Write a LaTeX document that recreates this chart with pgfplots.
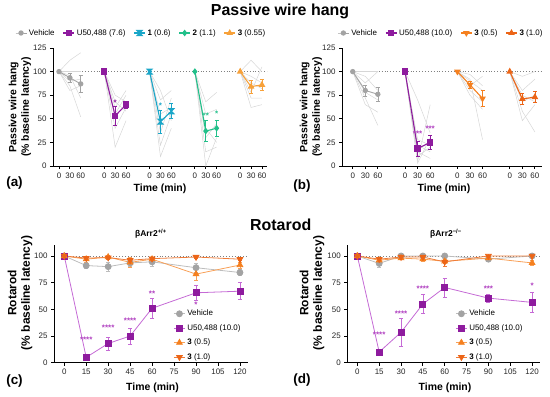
\documentclass[border=0pt]{standalone}
\usepackage{fontspec}
\setmainfont{Liberation Sans}
\usepackage{pgfplots}
\pgfplotsset{compat=1.18}

\definecolor{veh}{HTML}{A3A3A3}
\definecolor{vehl}{HTML}{BDBDBD}
\definecolor{u50}{HTML}{8E1B9E}
\definecolor{u50l}{HTML}{C56AD5}
\definecolor{cpdone}{HTML}{1AA6C8}
\definecolor{cpdtwo}{HTML}{22C08A}
\definecolor{orA}{HTML}{F7A13A}
\definecolor{orB}{HTML}{F5801F}
\definecolor{orC}{HTML}{EC6517}
\definecolor{indiv}{HTML}{D6D6D6}
\definecolor{starc}{HTML}{B040C0}

\pgfdeclareplotmark{hourglass}{%
  \pgfpathmoveto{\pgfqpoint{-\pgfplotmarksize}{\pgfplotmarksize}}%
  \pgfpathlineto{\pgfqpoint{\pgfplotmarksize}{\pgfplotmarksize}}%
  \pgfpathlineto{\pgfqpoint{-\pgfplotmarksize}{-\pgfplotmarksize}}%
  \pgfpathlineto{\pgfqpoint{\pgfplotmarksize}{-\pgfplotmarksize}}%
  \pgfpathclose
  \pgfusepathqfillstroke
}

\tikzset{startxt/.style={text=starc, font=\bfseries\fontsize{8}{8}\selectfont, inner sep=0pt}}

\pgfplotsset{
  prism/.style={
    scale only axis, clip=false,
    axis x line*=bottom, axis y line*=left,
    axis line style={-, black, line width=0.9pt},
    every outer x axis line/.append style={-},
    every outer y axis line/.append style={-},
    tick align=outside, major tick length=3bp,
    tick style={black, line width=0.8pt},
    tick label style={font=\fontsize{8}{9}\selectfont, text=black!85},
    /pgf/number format/assume math mode=true,
    legend style={draw=none, fill=none, font=\fontsize{8}{9.5}\selectfont},
    legend cell align=left,
    legend image code/.code={\draw[mark repeat=2,mark phase=2] plot coordinates {(0bp,0bp)(5.5bp,0bp)(11bp,0bp)};},
  },
  eb/.style={/pgfplots/error bars/y dir=both, /pgfplots/error bars/y explicit,
    /pgfplots/error bars/error bar style={line width=0.6pt, solid},
    /pgfplots/error bars/error mark options={rotate=90, mark size=2bp, line width=0.6pt}},
  ind/.style={forget plot, indiv, line width=0.5pt, no markers},
  hundred/.style={forget plot, gray, line width=0.9pt, dotted, no markers},
}

\begin{document}
\begin{tikzpicture}
\useasboundingbox (0,0) rectangle (550bp,397bp);

% ---------------- (a) ----------------
\begin{axis}[prism, at={(53bp,231bp)}, anchor=south west,
  width=214bp, height=118bp, xmin=-16.5, xmax=574, ymin=0, ymax=125,
  ytick={0,25,50,75,100,125},
  xtick={0,30,60,125,155,185,250,280,310,375,405,435,500,530,560},
  xticklabels={0,30,60,0,30,60,0,30,60,0,30,60,0,30,60},
  legend columns=-1,
  legend style={at={(0.412,1.127)}, anchor=center, /tikz/every even column/.append style={column sep=6bp}},
]
\addplot[hundred] coordinates {(0,100)(574,100)};
% individual animals
\addplot[ind] coordinates {(0,100)(30,112)(60,120)};
\addplot[ind] coordinates {(0,100)(30,96)(60,72)};
\addplot[ind] coordinates {(0,100)(30,85)(60,52)};
\addplot[ind] coordinates {(0,100)(30,100)(60,100)};
\addplot[ind] coordinates {(0,100)(30,90)(60,92)};
\addplot[ind] coordinates {(0,100)(30,80)(60,85)};
\addplot[ind] coordinates {(125,100)(155,20)(185,48)};
\addplot[ind] coordinates {(125,100)(155,40)(185,62)};
\addplot[ind] coordinates {(125,100)(155,62)(185,80)};
\addplot[ind] coordinates {(125,100)(155,75)(185,68)};
\addplot[ind] coordinates {(125,100)(155,55)(185,75)};
\addplot[ind] coordinates {(125,100)(155,68)(185,58)};
\addplot[ind] coordinates {(250,100)(280,10)(310,40)};
\addplot[ind] coordinates {(250,100)(280,22)(310,55)};
\addplot[ind] coordinates {(250,100)(280,35)(310,72)};
\addplot[ind] coordinates {(250,100)(280,55)(310,62)};
\addplot[ind] coordinates {(250,100)(280,70)(310,80)};
\addplot[ind] coordinates {(250,100)(280,80)(310,48)};
\addplot[ind] coordinates {(375,100)(405,0)(435,30)};
\addplot[ind] coordinates {(375,100)(405,15)(435,20)};
\addplot[ind] coordinates {(375,100)(405,30)(435,45)};
\addplot[ind] coordinates {(375,100)(405,55)(435,60)};
\addplot[ind] coordinates {(375,100)(405,68)(435,78)};
\addplot[ind] coordinates {(375,100)(405,40)(435,25)};
\addplot[ind] coordinates {(500,100)(530,62)(560,65)};
\addplot[ind] coordinates {(500,100)(530,78)(560,105)};
\addplot[ind] coordinates {(500,100)(530,95)(560,88)};
\addplot[ind] coordinates {(500,100)(530,112)(560,100)};
\addplot[ind] coordinates {(500,100)(530,72)(560,72)};
\addplot[ind] coordinates {(500,100)(530,88)(560,82)};
% means
\addplot[veh, line width=0.9pt, mark=*, mark size=2.2bp, mark options={solid, fill=veh}, eb]
  coordinates {(0,100) +- (0,0) (30,93.5) +- (0,5) (60,87) +- (0,9)};
\addlegendentry{Vehicle}
\addplot[u50, line width=1.1pt, mark=square*, mark size=2.6bp, mark options={solid, fill=u50}, eb]
  coordinates {(125,100) +- (0,0) (155,53) +- (0,10) (185,65) +- (0,4)};
\addlegendentry{U50,488 (7.6)}
\addplot[cpdone, line width=1.1pt, mark=hourglass, mark size=2.5bp, mark options={solid, fill=cpdone}, eb]
  coordinates {(250,100) +- (0,0) (280,47) +- (0,12) (310,58) +- (0,8)};
\addlegendentry{\textbf{1} (0.6)}
\addplot[cpdtwo, line width=1.1pt, mark=diamond*, mark size=2.5bp, mark options={solid, fill=cpdtwo}, eb]
  coordinates {(375,100) +- (0,0) (405,37) +- (0,11) (435,40) +- (0,8.5)};
\addlegendentry{\textbf{2} (1.1)}
\addplot[orA, line width=1.1pt, mark=triangle*, mark size=2.8bp, mark options={solid, fill=orA}, eb]
  coordinates {(500,100) +- (0,0) (530,84) +- (0,7) (560,86) +- (0,6)};
\addlegendentry{\textbf{3} (0.55)}
\node[startxt, text=u50] at (axis cs:155,67.5) {*};
\node[startxt, text=cpdone] at (axis cs:280,64) {*};
\node[startxt, text=cpdtwo] at (axis cs:405,53.5) {**};
\node[startxt, text=cpdtwo] at (axis cs:435,55.5) {*};
\end{axis}

% ---------------- (b) ----------------
\begin{axis}[prism, at={(342bp,231bp)}, anchor=south west,
  width=200bp, height=118bp, xmin=-25.6, xmax=452, ymin=0, ymax=125,
  ytick={0,25,50,75,100,125},
  xtick={0,30,60,125,155,185,250,280,310,375,405,435},
  xticklabels={0,30,60,0,30,60,0,30,60,0,30,60},
  legend columns=-1,
  legend style={at={(0.495,1.127)}, anchor=center, /tikz/every even column/.append style={column sep=6bp}},
]
\addplot[hundred] coordinates {(0,100)(452,100)};
\addplot[ind] coordinates {(0,100)(30,88)(60,100)};
\addplot[ind] coordinates {(0,100)(30,65)(60,57)};
\addplot[ind] coordinates {(0,100)(30,72)(60,43)};
\addplot[ind] coordinates {(0,100)(30,95)(60,80)};
\addplot[ind] coordinates {(0,100)(30,100)(60,100)};
\addplot[ind] coordinates {(0,100)(30,78)(60,70)};
\addplot[ind] coordinates {(125,100)(155,5)(185,65)};
\addplot[ind] coordinates {(125,100)(155,10)(185,20)};
\addplot[ind] coordinates {(125,100)(155,28)(185,22)};
\addplot[ind] coordinates {(125,100)(155,15)(185,8)};
\addplot[ind] coordinates {(125,100)(155,22)(185,15)};
\addplot[ind] coordinates {(125,100)(155,70)(185,35)};
\addplot[ind] coordinates {(125,100)(155,3)(185,30)};
\addplot[ind] coordinates {(250,100)(280,92)(310,28)};
\addplot[ind] coordinates {(250,100)(280,80)(310,68)};
\addplot[ind] coordinates {(250,100)(280,85)(310,95)};
\addplot[ind] coordinates {(250,100)(280,97)(310,85)};
\addplot[ind] coordinates {(250,100)(280,75)(310,60)};
\addplot[ind] coordinates {(250,100)(280,90)(310,80)};
\addplot[ind] coordinates {(375,100)(405,48)(435,65)};
\addplot[ind] coordinates {(375,100)(405,58)(435,36)};
\addplot[ind] coordinates {(375,100)(405,80)(435,92)};
\addplot[ind] coordinates {(375,100)(405,68)(435,75)};
\addplot[ind] coordinates {(375,100)(405,95)(435,100)};
\addplot[ind] coordinates {(375,100)(405,75)(435,68)};
\addplot[veh, line width=0.9pt, mark=*, mark size=2.2bp, mark options={solid, fill=veh}, eb]
  coordinates {(0,100) +- (0,0) (30,80) +- (0,6) (60,76) +- (0,7)};
\addlegendentry{Vehicle}
\addplot[u50, line width=1.1pt, mark=square*, mark size=2.6bp, mark options={solid, fill=u50}, eb]
  coordinates {(125,100) +- (0,0) (155,18.5) +- (0,8) (185,25) +- (0,7)};
\addlegendentry{U50,488 (10.0)}
\addplot[orB, line width=1.1pt, mark=triangle*, mark size=2.8bp, mark options={solid, fill=orB, rotate=180}, eb]
  coordinates {(250,100) +- (0,0) (280,86) +- (0,4) (310,71.5) +- (0,8.5)};
\addlegendentry{\textbf{3} (0.5)}
\addplot[orC, line width=1.1pt, mark=triangle*, mark size=2.8bp, mark options={solid, fill=orC}, eb]
  coordinates {(375,100) +- (0,0) (405,71) +- (0,6) (435,73) +- (0,6)};
\addlegendentry{\textbf{3} (1.0)}
\node[startxt] at (axis cs:155,34) {***};
\node[startxt] at (axis cs:185,39.5) {***};
\end{axis}

% ---------------- (c) ----------------
\begin{axis}[prism, at={(54bp,34.3bp)}, anchor=south west,
  width=194bp, height=117.4bp, xmin=-7, xmax=125.5, ymin=0, ymax=110,
  ytick={0,25,50,75,100},
  xtick={0,15,30,45,60,75,90,105,120},
  legend style={at={(0.794,0.232)}, anchor=center, row sep=3.2bp},
]
\addplot[hundred] coordinates {(0,100)(125.5,100)};
\addplot[vehl, line width=0.8pt, mark=*, mark size=3bp, mark options={solid, fill=veh, draw=veh}, eb]
  coordinates {(0,100) +- (0,0) (15,91) +- (0,3) (30,90) +- (0,4) (45,93.5) +- (0,3) (60,94.5) +- (0,4) (90,89) +- (0,4) (120,84.5) +- (0,3)};
\addlegendentry{Vehicle}
\addplot[u50l, line width=0.8pt, mark=square*, mark size=3bp, mark options={solid, fill=u50, draw=u50}, eb]
  coordinates {(0,100) +- (0,0) (15,5) +- (0,2) (30,18) +- (0,6) (45,25) +- (0,7.5) (60,51) +- (0,9) (90,65.5) +- (0,7) (120,67) +- (0,8)};
\addlegendentry{U50,488 (10.0)}
\addplot[orB!75, line width=0.8pt, mark=triangle*, mark size=3.3bp, mark options={solid, fill=orB, draw=orB}, eb]
  coordinates {(0,100) +- (0,0) (15,97) +- (0,3) (30,99) +- (0,2) (45,94) +- (0,5) (60,97) +- (0,2) (90,83) +- (0,6) (120,91.5) +- (0,3)};
\addlegendentry{\textbf{3} (0.5)}
\addplot[orC!85, line width=0.8pt, mark=triangle*, mark size=3.3bp, mark options={solid, fill=orC, draw=orC, rotate=180}, eb]
  coordinates {(0,100) +- (0,0) (15,98) +- (0,1.5) (30,98.5) +- (0,1.5) (45,96) +- (0,2) (60,97.5) +- (0,1.5) (90,99) +- (0,1) (120,97) +- (0,1.5)};
\addlegendentry{\textbf{3} (1.0)}
\node[startxt] at (axis cs:15,21.5) {****};
\node[startxt] at (axis cs:30,32.5) {****};
\node[startxt] at (axis cs:45,39.5) {****};
\node[startxt] at (axis cs:60,65) {**};
\node[startxt] at (axis cs:90,54.5) {*};
\end{axis}

% ---------------- (d) ----------------
\begin{axis}[prism, at={(347.3bp,34.3bp)}, anchor=south west,
  width=192.8bp, height=117.4bp, xmin=-6.9, xmax=125.5, ymin=0, ymax=110,
  ytick={0,25,50,75,100},
  xtick={0,15,30,45,60,75,90,105,120},
  legend style={at={(0.74,0.232)}, anchor=center, row sep=3.2bp},
]
\addplot[hundred] coordinates {(0,100)(125.5,100)};
\addplot[vehl, line width=0.8pt, mark=*, mark size=3bp, mark options={solid, fill=veh, draw=veh}, eb]
  coordinates {(0,100) +- (0,0) (15,93) +- (0,4) (30,100) +- (0,1) (45,100) +- (0,1) (60,100) +- (0,1) (90,97) +- (0,2) (120,100) +- (0,1)};
\addlegendentry{Vehicle}
\addplot[u50l, line width=0.8pt, mark=square*, mark size=3bp, mark options={solid, fill=u50, draw=u50}, eb]
  coordinates {(0,100) +- (0,0) (15,10) +- (0,2) (30,28.5) +- (0,13) (45,55) +- (0,9) (60,70.5) +- (0,9) (90,60.5) +- (0,4) (120,56.5) +- (0,9)};
\addlegendentry{U50,488 (10.0)}
\addplot[orB!75, line width=0.8pt, mark=triangle*, mark size=3.3bp, mark options={solid, fill=orB, draw=orB}, eb]
  coordinates {(0,100) +- (0,0) (15,96) +- (0,2) (30,98) +- (0,1.5) (45,97) +- (0,2) (60,95) +- (0,2) (90,98) +- (0,1.5) (120,93.5) +- (0,2)};
\addlegendentry{\textbf{3} (0.5)}
\addplot[orC!85, line width=0.8pt, mark=triangle*, mark size=3.3bp, mark options={solid, fill=orC, draw=orC, rotate=180}, eb]
  coordinates {(0,100) +- (0,0) (15,97) +- (0,2) (30,99) +- (0,1) (45,99) +- (0,1.5) (60,94.5) +- (0,4) (90,100) +- (0,1) (120,100) +- (0,1)};
\addlegendentry{\textbf{3} (1.0)}
\node[startxt] at (axis cs:15,26.5) {****};
\node[startxt] at (axis cs:30,46) {****};
\node[startxt] at (axis cs:45,69) {****};
\node[startxt] at (axis cs:90,69) {***};
\node[startxt] at (axis cs:120,72) {*};
\end{axis}

% ---------------- texts ----------------
\node[font=\bfseries\fontsize{16}{18}\selectfont] at (280bp,386bp) {Passive wire hang};
\node[font=\bfseries\fontsize{16}{18}\selectfont] at (280.7bp,172.3bp) {Rotarod};
\node[font=\bfseries\fontsize{13.5}{15}\selectfont] at (14.5bp,214bp) {(a)};
\node[font=\bfseries\fontsize{13.5}{15}\selectfont] at (302bp,211bp) {(b)};
\node[font=\bfseries\fontsize{13.5}{15}\selectfont] at (14.5bp,15.5bp) {(c)};
\node[font=\bfseries\fontsize{13.5}{15}\selectfont] at (302bp,17bp) {(d)};
\node[font=\bfseries\fontsize{10.5}{12}\selectfont] at (160bp,208bp) {Time (min)};
\node[font=\bfseries\fontsize{10.5}{12}\selectfont] at (444bp,208bp) {Time (min)};
\node[font=\bfseries\fontsize{10.5}{12}\selectfont] at (152.5bp,9.7bp) {Time (min)};
\node[font=\bfseries\fontsize{10.5}{12}\selectfont] at (445bp,9.3bp) {Time (min)};
\node[font=\bfseries\fontsize{10.5}{12.5}\selectfont, rotate=90, align=center] at (20bp,290bp) {Passive wire hang\\(\% baseline latency)};
\node[font=\bfseries\fontsize{10.5}{12.5}\selectfont, rotate=90, align=center] at (311bp,290bp) {Passive wire hang\\(\% baseline latency)};
\node[font=\bfseries\fontsize{12}{13.5}\selectfont, rotate=90, align=center] at (20bp,104bp) {Rotarod\\(\% baseline latency)};
\node[font=\bfseries\fontsize{12}{13.5}\selectfont, rotate=90, align=center] at (312bp,104bp) {Rotarod\\(\% baseline latency)};
\node[font=\bfseries\fontsize{8.5}{9}\selectfont] at (151bp,163bp) {βArr2\textsuperscript{+/+}};
\node[font=\bfseries\fontsize{8.5}{9}\selectfont] at (446bp,163bp) {βArr2\textsuperscript{−/−}};
\end{tikzpicture}
\end{document}
